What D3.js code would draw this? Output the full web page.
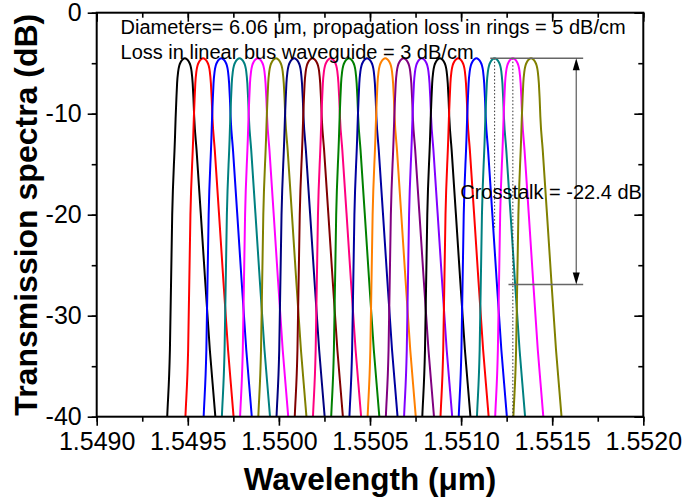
<!DOCTYPE html>
<html><head><meta charset="utf-8">
<script src="https://cdn.jsdelivr.net/npm/d3@7"></script>
<style>
body{margin:0;background:#fff;}
text{font-family:Arial,"Liberation Sans",sans-serif;}
</style></head>
<body><svg id="c" width="685" height="503"></svg>
<script>
// ---- data ----
const peakWavelengths = [1.549484,1.549584,1.549684,1.549784,1.549884,1.549984,1.550084,1.550184,1.550284,1.550384,
                         1.550484,1.550584,1.550684,1.550784,1.550884,1.550984,1.551084,1.551184,1.551284,1.551384];
const seriesColors = ["#000000","#ff0000","#0000ff","#008080","#ff00ff","#808000","#000080","#800000","#ff0080","#008000",
                      "#0000a0","#ff8000","#800080","#8000ff","#000000","#ff0000","#0000ff","#008080","#ff00ff","#808000"];
// resonance line shape: offset from peak (nm) and transmission (dB)
const profileOffsetNm = [-0.1014,-0.0970,-0.0822,-0.0696,-0.0548,-0.0510,-0.0466,-0.0428,-0.0367,-0.0301,-0.0219,-0.0110,0,
                          0.0110,0.0219,0.0301,0.0367,0.0428,0.0471,0.0510,0.0641,0.1003,0.1370,0.1672,0.1737];
const profileDb = [-42,-40,-33.4,-20,-12.6,-10.5,-8.5,-7.0,-5.8,-5.2,-4.85,-4.6,-4.5,
                   -4.6,-4.85,-5.2,-5.8,-7.0,-8.5,-10.3,-13.6,-23.5,-33.4,-40,-41.6];
const xTicks = [1.5490,1.5495,1.5500,1.5505,1.5510,1.5515,1.5520];
const yTicks = [0,-10,-20,-30,-40];
const peakDb = -4.5, crosstalkDb = -22.4;
const annotationLines = ["Diameters= 6.06 \u03bcm, propagation loss in rings = 5 dB/cm",
                         "Loss in linear bus waveguide = 3 dB/cm"];
const crosstalkLabel = "Crosstalk = -22.4 dB";
const xTitle = "Wavelength (\u03bcm)", yTitle = "Transmission spectra (dB)";
// annotation geometry in data units
const dot1 = {x:1.551184, y0:peakDb, y1:-21.5};
const dot2 = {x:1.551284, y0:peakDb, y1:-40};
const hTop = {x0:1.55116, x1:1.55167, y:peakDb};
const hBot = {x0:1.55126, x1:1.55167, y:peakDb+crosstalkDb};
const arrowX = 1.551632;

// ---- layout ----
const W=685,H=503, m={top:12.7,left:96.7,right:41.7,bottom:86.3};
const iw=W-m.left-m.right, ih=H-m.top-m.bottom;
const svg=d3.select("#c");
const g=svg.append("g").attr("transform",`translate(${m.left},${m.top})`);
const x=d3.scaleLinear().domain([1.549,1.552]).range([0,iw]);
const y=d3.scaleLinear().domain([-40,0]).range([ih,0]);

svg.append("defs").append("clipPath").attr("id","clip").append("rect").attr("width",iw).attr("height",ih);
const plot=g.append("g").attr("clip-path","url(#clip)");

const line=d3.line().x(d=>x(d[0])).y(d=>y(d[1])).curve(d3.curveMonotoneX);
peakWavelengths.forEach((p,i)=>{
  const pts=profileOffsetNm.map((o,j)=>[p+o/1000,profileDb[j]]);
  plot.append("path").attr("d",line(pts)).attr("fill","none")
    .attr("stroke",seriesColors[i]).attr("stroke-width",2);
});

// dotted & guide lines
[dot1,dot2].forEach(d=>{
  plot.append("line").attr("x1",x(d.x)).attr("x2",x(d.x)).attr("y1",y(d.y0)).attr("y2",y(d.y1))
    .attr("stroke","#333").attr("stroke-width",1).attr("stroke-dasharray","1.5,2");
});
[hTop,hBot].forEach(d=>{
  plot.append("line").attr("x1",x(d.x0)).attr("x2",x(d.x1)).attr("y1",y(d.y)).attr("y2",y(d.y))
    .attr("stroke","#666").attr("stroke-width",1.5);
});
const ax=x(arrowX), ay0=y(peakDb), ay1=y(peakDb+crosstalkDb);
plot.append("line").attr("x1",ax).attr("x2",ax).attr("y1",ay0+10).attr("y2",ay1-10).attr("stroke","#666").attr("stroke-width",1.3);
plot.append("path").attr("d",`M${ax},${ay0}L${ax-3.5},${ay0+12}L${ax+3.5},${ay0+12}Z`).attr("fill","#000");
plot.append("path").attr("d",`M${ax},${ay1}L${ax-3.5},${ay1-12}L${ax+3.5},${ay1-12}Z`).attr("fill","#000");

// axes
const minorX=d3.range(0,13).map(i=>1.549+i*0.00025);
const minorY=d3.range(0,9).map(i=>-40+i*5);
function styleAxis(sel){sel.select(".domain").remove();sel.selectAll("line").attr("stroke","#000").attr("stroke-width",1.6);}
const fmt=d3.format(".4f");
g.append("g").attr("transform",`translate(0,${ih})`).call(d3.axisBottom(x).tickValues(minorX).tickSize(5).tickFormat("")).call(styleAxis);
g.append("g").attr("transform",`translate(0,${ih})`).call(d3.axisBottom(x).tickValues(xTicks).tickSize(9).tickPadding(7).tickFormat(fmt)).call(styleAxis)
  .selectAll("text").attr("font-size",25).attr("fill","#000");
g.append("g").call(d3.axisLeft(y).tickValues(minorY).tickSize(5).tickFormat("")).call(styleAxis);
g.append("g").call(d3.axisLeft(y).tickValues(yTicks).tickSize(9).tickPadding(6).tickFormat(d3.format("d"))).call(styleAxis)
  .selectAll("text").attr("font-size",25).attr("fill","#000").text(d=>d===0?"0":String(d).replace("\u2212","-"));
// mirrored top/right (inward)
g.append("g").call(d3.axisBottom(x).tickValues(minorX).tickSize(5).tickFormat("")).call(styleAxis);
g.append("g").call(d3.axisBottom(x).tickValues(xTicks).tickSize(9).tickFormat("")).call(styleAxis);
g.append("g").attr("transform",`translate(${iw},0)`).call(d3.axisLeft(y).tickValues(minorY).tickSize(5).tickFormat("")).call(styleAxis);
g.append("g").attr("transform",`translate(${iw},0)`).call(d3.axisLeft(y).tickValues(yTicks).tickSize(9).tickFormat("")).call(styleAxis);
g.append("rect").attr("width",iw).attr("height",ih).attr("fill","none").attr("stroke","#000").attr("stroke-width",2);

// texts
annotationLines.forEach((t,i)=>{
  g.append("text").attr("x",x(1.549131)).attr("y",y(-2.14-2.47*i)).attr("font-size",20).attr("fill","#000").text(t);
});
g.append("text").attr("x",x(1.551992-0.000997)).attr("y",y(-18.45)).attr("font-size",20).attr("fill","#000").text(crosstalkLabel);
svg.append("text").attr("x",m.left+iw/2).attr("y",490).attr("text-anchor","middle").attr("font-size",31.5).attr("font-weight","bold").text(xTitle);
svg.append("text").attr("transform",`translate(37,${m.top+ih/2}) rotate(-90)`).attr("text-anchor","middle").attr("font-size",32).attr("font-weight","bold").text(yTitle);
</script></body></html>
